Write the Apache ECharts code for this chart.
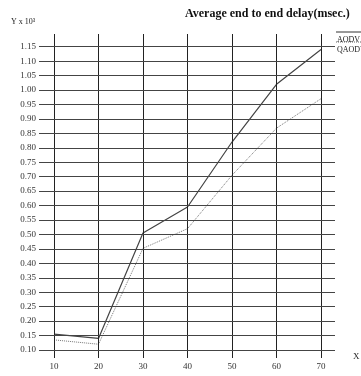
<!DOCTYPE html>
<html>
<head>
<meta charset="utf-8">
<script src="https://cdn.jsdelivr.net/npm/echarts@6/dist/echarts.min.js"></script>
<style>
html,body{margin:0;padding:0;background:#fff;}
#chart{width:361px;height:376px;}
</style>
</head>
<body>
<div id="chart"></div>
<script>
var xCategories = [10, 20, 30, 40, 50, 60, 70];
var aodvValues  = [0.155, 0.140, 0.505, 0.595, 0.820, 1.020, 1.140];
var qaodvValues = [0.135, 0.120, 0.452, 0.520, 0.705, 0.868, 0.970];
var yTicks = [0.10,0.15,0.20,0.25,0.30,0.35,0.40,0.45,0.50,0.55,0.60,0.65,0.70,0.75,0.80,0.85,0.90,0.95,1.00,1.05,1.10,1.15];
var seriesNames = ['AODV', 'QAODV'];

var SERIF = '"Liberation Serif","DejaVu Serif",serif';
var chart = echarts.init(document.getElementById('chart'), null, {renderer: 'canvas'});

function pairs(vals) { return xCategories.map(function (x, i) { return [x, vals[i]]; }); }

var option = {
  backgroundColor: '#fff',
  animation: false,
  title: {
    text: 'Average end to end delay(msec.)',
    left: 180, top: 3,
    textStyle: {fontFamily: SERIF, fontWeight: 'bold', fontSize: 12, color: '#111'}
  },
  legend: {
    data: seriesNames,
    orient: 'vertical',
    left: 327, top: 31,
    itemWidth: 0, itemHeight: 0, itemGap: 2,
    icon: 'rect',
    textStyle: {fontFamily: SERIF, fontSize: 8, color: '#222'},
    selectedMode: false
  },
  graphic: [
    {type: 'text', left: 11, top: 18, style: {text: 'Y x 10\u00B3', font: '8px ' + SERIF, fill: '#222'}},
    {type: 'text', left: 353, top: 352, style: {text: 'X', font: '9px ' + SERIF, fill: '#222'}},
    {type: 'line', shape: {x1: 336, y1: 32, x2: 361, y2: 32}, style: {stroke: '#333', lineWidth: 1}},
    {type: 'line', shape: {x1: 336, y1: 42, x2: 361, y2: 42}, style: {stroke: '#666', lineWidth: 1, lineDash: [1, 1]}}
  ],
  grid: {left: 39, right: 26, top: 34, bottom: 18, containLabel: false},
  xAxis: {
    type: 'value',
    min: 6.63, max: 73.146,
    axisLine: {show: false},
    axisTick: {show: false},
    splitLine: {show: false},
    axisLabel: {
      customValues: xCategories,
      margin: 4,
      fontFamily: SERIF, fontSize: 9, color: '#333'
    }
  },
  yAxis: {
    type: 'value',
    min: 0.0723, max: 1.194,
    axisLine: {show: false},
    axisTick: {show: false},
    splitLine: {show: false},
    axisLabel: {
      customValues: yTicks,
      margin: 3,
      fontFamily: SERIF, fontSize: 9, color: '#333',
      formatter: function (v) { return v.toFixed(2); }
    }
  },
  series: [
    {
      name: 'grid', type: 'line', data: [], silent: true, z: 1,
      markLine: {
        silent: true, symbol: 'none', label: {show: false}, animation: false,
        data: xCategories.map(function (v) { return {xAxis: v, lineStyle: {color: '#222', width: 1, type: 'solid'}}; })
          .concat(yTicks.map(function (v) { return {yAxis: v, lineStyle: {color: '#444', width: 1, type: 'solid'}}; }))
      }
    },
    {
      name: seriesNames[0], type: 'line', data: pairs(aodvValues), z: 3,
      symbol: 'none', lineStyle: {color: '#444', width: 1.2, type: 'solid'}, itemStyle: {color: '#444'}
    },
    {
      name: seriesNames[1], type: 'line', data: pairs(qaodvValues), z: 3,
      symbol: 'none', lineStyle: {color: '#777', width: 1, type: [1, 1]}, itemStyle: {color: '#777'}
    }
  ]
};
chart.setOption(option);
</script>
</body>
</html>
